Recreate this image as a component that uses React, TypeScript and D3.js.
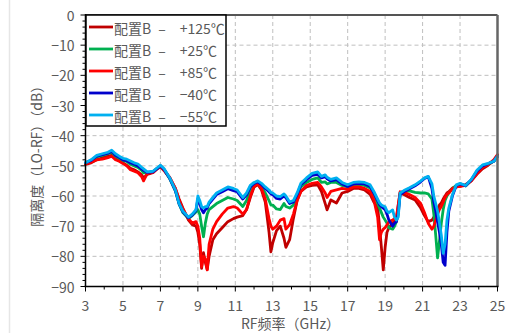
import React from "react";
import * as d3 from "d3";

// Frequency points (GHz) shared by all series
const freqs = [
  3.0, 3.3, 3.6, 3.9, 4.2, 4.4, 4.6, 4.8, 5.0, 5.2, 5.4, 5.6, 5.8, 6.0, 6.1, 6.3, 6.6, 6.8, 7.0, 7.2,
  7.5, 7.8, 8.0, 8.2, 8.5, 8.7, 8.9, 9.0, 9.1, 9.2, 9.3, 9.4, 9.5, 9.6, 9.8, 10.0, 10.3, 10.6, 10.9, 11.1,
  11.4, 11.6, 11.8, 12.0, 12.2, 12.4, 12.6, 12.8, 12.9, 13.0, 13.2, 13.4, 13.6, 13.7, 13.9, 14.1, 14.3, 14.5, 14.8, 15.1,
  15.4, 15.6, 15.8, 15.9, 16.1, 16.4, 16.7, 17.0, 17.3, 17.6, 17.9, 18.2, 18.4, 18.6, 18.7, 18.8, 18.9, 19.0, 19.1, 19.2,
  19.4, 19.5, 19.6, 19.7, 19.8, 20.0, 20.3, 20.6, 20.9, 21.1, 21.3, 21.5, 21.6, 21.7, 21.8, 21.9, 22.0, 22.1, 22.2, 22.3,
  22.4, 22.6, 22.8, 23.0, 23.3, 23.6, 23.9, 24.2, 24.5, 24.8, 25.0,
];

// Isolation (dB) per temperature
const isoP125 = [
  -49.5, -49, -48, -47.3, -46.8, -46.5, -47.5, -48.3, -49, -49.8, -50.8, -51.3, -52, -53, -54, -52.8, -52.3, -51.2, -50.3, -51.6,
  -54, -57.5, -61, -64, -68, -69.5, -70, -72, -76, -84, -78.8, -82, -84.4, -80, -74.5, -72.5, -70.5, -68.5, -67.5, -67,
  -66.5, -64.5, -60.5, -57, -56.2, -58, -62, -72, -78.5, -75.5, -71.5, -70, -74, -77, -74.5, -67.5, -61.5, -58.5, -57, -56.5,
  -56.3, -58.5, -62.5, -64.6, -61.3, -62.3, -59, -58.5, -57.5, -57.5, -58, -59.5, -62, -63.6, -70, -77, -84.5, -77, -72, -70.5,
  -69, -68.5, -68, -63, -59, -59.5, -60.5, -61.3, -64, -66.5, -68.5, -68, -67, -66, -64.5, -63, -62.3, -61, -60, -59,
  -58.6, -57.3, -57, -56.8, -56.2, -55, -52.8, -51, -49.8, -48.3, -46.5,
];

const isoP25 = [
  -49, -48.3, -47, -46.5, -46, -45.5, -46.8, -47.5, -48.3, -48.5, -49.5, -50, -50.5, -51.5, -52.3, -52.3, -52, -51, -50, -51.3,
  -54.3, -58.3, -62.7, -65.5, -67.5, -66.5, -65.3, -64.5, -66, -70, -73.5, -69, -66, -64.5, -63.5, -62.5, -61.5, -60.5, -61, -61.5,
  -63.5, -61.5, -58, -56.5, -55.8, -57, -59, -61.5, -63, -63, -64.3, -64.5, -62.5, -63.5, -64, -63, -60, -57, -55.5, -54.5,
  -54, -55.5, -55.3, -56, -55.5, -55.5, -56.5, -57, -56.3, -56.2, -56.5, -57.3, -59.5, -62.5, -64, -65.5, -67, -68, -69, -70.5,
  -71, -70, -68.5, -65, -59, -58.5, -58.3, -58.8, -59, -59, -59.3, -61, -66, -73, -80.5, -75, -69, -64.5, -61.5, -60,
  -59, -57.5, -56.5, -56, -56.7, -54.8, -52, -50, -49.5, -48.5, -47,
];

const isoP85 = [
  -49.3, -48.8, -48, -47.8, -47.3, -46.8, -48, -48.5, -49.2, -50, -51.3, -51.8, -52.3, -53.6, -55, -52.5, -52.2, -51, -50.2, -51.5,
  -53.8, -57.5, -61.5, -64.5, -67.5, -69, -68.5, -70, -74, -83.4, -80, -81, -84.5, -76, -71, -68.5, -66, -64, -63.5, -64,
  -66, -64.5, -60, -56.8, -56, -57.5, -61, -67.5, -70, -71, -70, -68, -67.5, -71, -69.5, -66, -61.5, -58.5, -56.5, -55.8,
  -55.5, -57, -59, -60.5, -58.5, -58, -57.5, -57.8, -57, -57, -57.5, -58.5, -61.3, -67, -74.5, -72, -71, -70.5, -69.5, -68.5,
  -68, -67.5, -67, -63, -58.6, -58.8, -59.5, -60.5, -62.5, -65.5, -69, -71, -70, -68, -66, -64.5, -63.5, -62, -60.5, -59.5,
  -59, -57.5, -57, -56.8, -56.5, -55, -52.5, -50.5, -49.5, -48, -46.3,
];

const isoM40 = [
  -49, -48.2, -46.8, -46.3, -45.8, -45.2, -46.5, -47.2, -48, -48.3, -49, -49.5, -50, -51, -51.5, -52.2, -52, -51, -50, -51.2,
  -54.2, -58.2, -62.6, -65.2, -67.2, -66.3, -64.8, -61, -62.5, -64.5, -65.6, -64.5, -64, -62.5, -61, -59.5, -58.6, -57.6, -58.2, -58.6,
  -61, -59.6, -57, -55.8, -55.3, -56.2, -57.5, -58.6, -59.3, -59.6, -60.8, -61, -60, -60.6, -62.5, -62, -59.5, -56.3, -54.6, -53.2,
  -52.8, -54, -53.6, -54.3, -55, -54.6, -56, -56.8, -56, -55.8, -56, -56.8, -59, -61.5, -62.8, -63.5, -64, -64.5, -66, -68,
  -70, -69, -68.5, -66, -59.5, -58.6, -57.6, -56.6, -55.3, -54.2, -53.6, -57.5, -62, -65, -68.5, -72, -76, -82, -83, -72,
  -65, -59.8, -56.5, -56, -56.6, -54.6, -51.8, -50, -49.3, -48.5, -46.8,
];

const isoM55 = [
  -49, -48, -46.5, -46, -45.5, -44.8, -46, -46.8, -47.5, -47.8, -48.4, -49, -49.4, -50.5, -51, -52, -51.8, -50.8, -49.8, -51,
  -54, -58, -62.5, -65, -67, -66, -64.5, -60, -61.5, -63.5, -64, -63.5, -63.5, -62, -60.5, -59, -58, -57, -57.5, -58,
  -60.5, -59, -56.5, -55.5, -55, -55.8, -57, -58, -58.8, -59, -60, -60.2, -59.3, -60, -62, -61.5, -59, -55.8, -54, -52.5,
  -52, -53.5, -53, -53.8, -54.5, -54, -55.5, -56.3, -55.5, -55.3, -55.5, -56.3, -58.5, -61, -62.3, -63, -63.3, -63.6, -65, -65.5,
  -64.6, -67, -68, -67, -59, -58.2, -57.3, -56.3, -55, -54, -53.5, -56, -60, -62.5, -65, -69, -73, -79, -76, -68,
  -64, -59.5, -56.3, -55.8, -56.5, -54.5, -51.5, -49.7, -49.2, -48.5, -46.8,
];

const seriesLabels = [
  "配置B\u2002–\u2002\u2002+125℃",
  "配置B\u2002–\u2002\u2002+25℃",
  "配置B\u2002–\u2002\u2002+85℃",
  "配置B\u2002–\u2002\u2002−40℃",
  "配置B\u2002–\u2002\u2002−55℃",
];
const seriesColors = ["#C00000", "#00B050", "#FF0000", "#0000CC", "#00B0F0"];
const seriesValues = [isoP125, isoP25, isoP85, isoM40, isoM55];

const xTicks = [3, 5, 7, 9, 11, 13, 15, 17, 19, 21, 23, 25];
const yTicks = [0, -10, -20, -30, -40, -50, -60, -70, -80, -90];

const xTitle = "RF频率（GHz）";
const yTitle = "隔离度（LO-RF）（dB）";

const W = 514;
const H = 333;
const L = 85.5;
const R = 497.5;
const T = 15;
const B = 286.5;
const FONT = "'Noto Sans CJK SC', 'Noto Sans', sans-serif";
const TEXT = "#595959";

export default function App() {
  const x = d3.scaleLinear().domain([3, 25]).range([L, R]);
  const y = d3.scaleLinear().domain([-90, 0]).range([B, T]);
  const line = d3
    .line<number>()
    .x((_, i) => x(freqs[i]))
    .y((v) => y(v));

  const minorX = d3.range(3, 25.01, 1);
  const minorY = d3.range(-90, 0.01, 2);
  const fmt = (v: number) => (v < 0 ? "−" + Math.abs(v) : String(v));

  return (
    <svg
      width={W}
      height={H}
      style={{ position: "absolute", left: 0, top: 0, background: "#fff" }}
      fontFamily={FONT}
    >
      <line x1={9.5} x2={9.5} y1={0} y2={H} stroke="#e6e6e6" strokeWidth={1.5} />

      {/* grid */}
      <g stroke="#bfbfbf" strokeWidth={1} strokeDasharray="4,3">
        {xTicks.slice(1, -1).map((t) => (
          <line key={"gx" + t} x1={x(t)} x2={x(t)} y1={T} y2={B} />
        ))}
        {yTicks.slice(1, -1).map((t) => (
          <line key={"gy" + t} x1={L} x2={R} y1={y(t)} y2={y(t)} />
        ))}
      </g>

      {/* series */}
      <g fill="none" strokeWidth={2.8} strokeLinejoin="round" strokeLinecap="round">
        {seriesValues.map((vals, i) => (
          <path key={i} d={line(vals) ?? ""} stroke={seriesColors[i]} />
        ))}
      </g>

      {/* frame */}
      <line x1={L} x2={R} y1={T} y2={T} stroke="#555" strokeWidth={2} />
      <line x1={R} x2={R} y1={T} y2={B} stroke="#666" strokeWidth={2.5} />
      <line x1={L} x2={L} y1={T - 1} y2={B} stroke="#000" strokeWidth={1.5} />
      <line x1={L - 1} x2={R + 1} y1={B} y2={B} stroke="#000" strokeWidth={1.5} />

      {/* ticks */}
      <g stroke="#000" strokeWidth={1}>
        {minorY.map((t) => (
          <line key={"my" + t} x1={L - (t % 10 === 0 ? 5 : 3)} x2={L} y1={y(t)} y2={y(t)} />
        ))}
        {minorX.map((t) => (
          <line key={"mx" + t} x1={x(t)} x2={x(t)} y1={B} y2={B + ((t - 3) % 2 === 0 ? 5 : 3)} />
        ))}
      </g>
      <g fill={TEXT} fontSize={14}>
        {yTicks.map((t) => (
          <text key={"yl" + t} x={L - 11} y={y(t)} textAnchor="end" dominantBaseline="central">
            {fmt(t)}
          </text>
        ))}
        {xTicks.map((t) => (
          <text key={"xl" + t} x={x(t)} y={B + 18} textAnchor="middle" dominantBaseline="central">
            {t}
          </text>
        ))}
        <text x={(L + R) / 2 - 1} y={H - 10} textAnchor="middle" dominantBaseline="central">
          {xTitle}
        </text>
        <text
          transform={`translate(36,${(T + B) / 2 + 2}) rotate(-90)`}
          textAnchor="middle"
          dominantBaseline="central"
        >
          {yTitle}
        </text>
      </g>

      {/* legend */}
      <g>
        <rect x={86} y={15} width={140} height={111} fill="#fff" stroke="#000" strokeWidth={1.5} />
        {seriesLabels.map((s, i) => {
          const ly = 27 + i * 22;
          return (
            <g key={s}>
              <line x1={89} x2={113} y1={ly} y2={ly} stroke={seriesColors[i]} strokeWidth={2.8} />
              <text x={114} y={ly + 1} fill={TEXT} fontSize={14} dominantBaseline="central">
                {s}
              </text>
            </g>
          );
        })}
      </g>
    </svg>
  );
}
